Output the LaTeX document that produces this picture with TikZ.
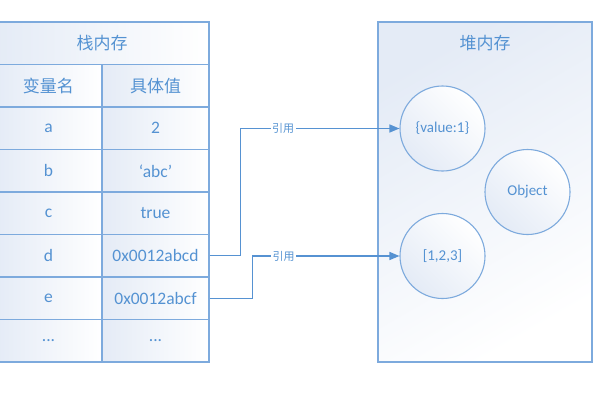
\documentclass[tikz,border=0pt]{standalone}
\usepackage{fontspec}
\setmainfont{Carlito}
\newfontfamily\cjk{Noto Sans CJK SC}
\usetikzlibrary{arrows.meta}
\definecolor{linec}{RGB}{125,170,221}
\definecolor{txtc}{RGB}{84,146,210}
\definecolor{arrc}{RGB}{86,146,210}
\definecolor{tint}{RGB}{228,235,246}
\begin{document}
\begin{tikzpicture}[x=1pt,y=-1pt,
  cell/.style={draw=linec, line width=1.4pt, minimum width=107pt, minimum height=42.5pt,
    inner sep=0pt, text=txtc, font=\fontsize{17.5}{19}\selectfont,
    left color=tint, right color=white},
  widecell/.style={cell, minimum width=214pt},
  cjkfont/.style={font=\cjk\fontsize{17}{19}\selectfont},
  heapbox/.style={draw=linec, line width=1.4pt, minimum width=214pt, minimum height=340pt,
    inner sep=0pt, top color=tint, bottom color=white, shading angle=30},
  obj/.style={circle, draw=linec, line width=1.1pt, minimum size=85pt, inner sep=0pt,
    text=txtc, font=\fontsize{15}{17}\selectfont,
    top color=white, bottom color=tint, shading angle=-45},
  arr/.style={draw=arrc, line width=1.4pt, -{Triangle[length=10pt,width=8pt]}},
  reflabel/.style={fill=white, inner sep=1.5pt, text=txtc, font=\cjk\fontsize{11}{12}\selectfont}
]
\useasboundingbox (0,0) rectangle (600,400);
% stack table
\node[widecell, cjkfont] (title) at (102,43.25) {栈内存};
\node[cell, cjkfont] (h1) at (48.5,85.75) {变量名};
\node[cell, cjkfont] (h2) at (155.5,85.75) {具体值};
\node[cell] (a1) at (48.5,128.25) {a};
\node[cell] (a2) at (155.5,128.25) {2};
\node[cell] (b1) at (48.5,170.75) {b};
\node[cell] (b2) at (155.5,170.75) {‘abc’};
\node[cell] (c1) at (48.5,213.25) {c};
\node[cell] (c2) at (155.5,213.25) {true};
\node[cell] (d1) at (48.5,255.75) {d};
\node[cell] (d2) at (155.5,255.75) {0x0012abcd};
\node[cell] (e1) at (48.5,298.25) {e};
\node[cell] (e2) at (155.5,298.25) {0x0012abcf};
\node[cell] (f1) at (48.5,340.75) {...};
\node[cell] (f2) at (155.5,340.75) {...};
% heap
\node[heapbox] (heap) at (485,192) {};
\node[cjkfont, text=txtc] (heaptitle) at (485,43.5) {堆内存};
\node[obj] (v1) at (442.5,128.5) {\{value:1\}};
\node[obj] (v2) at (527.5,192) {Object};
\node[obj] (v3) at (442.5,256) {[1,2,3]};
% references
\draw[arr] (d2.east) -- ++(31,0) |- node[reflabel, pos=0.634] (r1) {引用} (v1.west);
\draw[arr] (e2.east) -- ++(43,0) |- node[reflabel, pos=0.605] (r2) {引用} (v3.west);
\end{tikzpicture}
\end{document}
